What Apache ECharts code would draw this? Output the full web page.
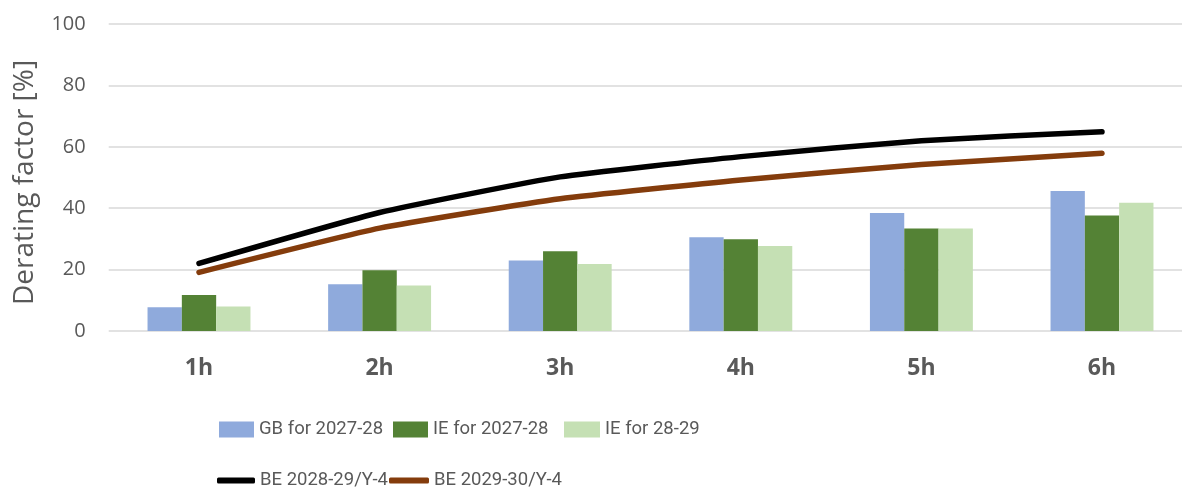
<!DOCTYPE html>
<html>
<head>
<meta charset="utf-8">
<script src="https://cdn.jsdelivr.net/npm/echarts@6/dist/echarts.min.js"></script>
<style>
  html, body { margin: 0; padding: 0; background: #fff; }
  #chart { width: 1182px; height: 493px; }
</style>
</head>
<body>
<div id="chart"></div>
<script>
// Derating factors by storage duration
const categories = ['1h', '2h', '3h', '4h', '5h', '6h'];
const yTicks = [0, 20, 40, 60, 80, 100];

const gb2027 = [7.7, 15.2, 23.0, 30.5, 38.4, 45.6];
const ie2027 = [11.7, 19.8, 26.0, 29.9, 33.4, 37.6];
const ie2829 = [8.0, 14.8, 21.8, 27.7, 33.4, 41.8];

const be2829 = [22.0, 38.6, 50.2, 56.8, 62.0, 64.9];
const be2930 = [19.1, 33.5, 43.1, 49.2, 54.2, 57.9];

const TEXT = '#595959';
const AXIS_FONT = '"Open Sans", "Noto Sans", sans-serif';
const LEGEND_FONT = 'Roboto, "Liberation Sans", sans-serif';

const chart = echarts.init(document.getElementById('chart'), null, { renderer: 'canvas' });

const barSeries = (name, data, color) => ({
  name, type: 'bar', data,
  barGap: '0%', barCategoryGap: '43%',
  itemStyle: { color },
  emphasis: { disabled: true }
});
const lineSeries = (name, data, color) => ({
  name, type: 'line', data,
  smooth: 0.15, showSymbol: false, symbol: 'none',
  lineStyle: { color, width: 5.5, cap: 'round', join: 'round' },
  itemStyle: { color },
  emphasis: { disabled: true }, z: 5
});

// one legend block per entry so each entry sits at its own spot
const legendItem = (name, left, top, w, h, icon) => ({
  data: [name], left, top, padding: 0,
  itemWidth: w, itemHeight: h, icon,
  textStyle: { color: TEXT, fontFamily: LEGEND_FONT, fontSize: 18.5 },
  selectedMode: false
});

chart.setOption({
  animation: false,
  backgroundColor: '#ffffff',
  grid: { left: 108.7, top: 24, width: 1083.6, height: 307, outerBoundsMode: 'none', containLabel: false },
  xAxis: {
    type: 'category', data: categories,
    axisLine: { show: false }, axisTick: { show: false },
    axisLabel: { color: TEXT, fontFamily: AXIS_FONT, fontSize: 23, fontWeight: 'bold', margin: 26 }
  },
  yAxis: {
    type: 'value', min: yTicks[0], max: yTicks[yTicks.length - 1], interval: 20,
    name: 'Derating factor [%]', nameLocation: 'middle', nameGap: 70,
    nameTextStyle: { color: TEXT, fontFamily: AXIS_FONT, fontSize: 28, padding: [0, 10, 0, 0] },
    axisLine: { show: false }, axisTick: { show: false },
    axisLabel: { color: TEXT, fontFamily: AXIS_FONT, fontSize: 20, margin: 23 },
    splitLine: { lineStyle: { color: '#d9d9d9', width: 1.5 } }
  },
  legend: [
    legendItem('GB for 2027-28', 219, 420, 35, 16, 'rect'),
    legendItem('IE for 2027-28', 393, 420, 35, 16, 'rect'),
    legendItem('IE for 28-29', 564, 420, 36, 16, 'rect'),
    legendItem('BE 2028-29/Y-4', 217, 471, 38, 6, 'roundRect'),
    legendItem('BE 2029-30/Y-4', 389, 471, 40, 6, 'roundRect')
  ],
  series: [
    barSeries('GB for 2027-28', gb2027, '#8faadc'),
    barSeries('IE for 2027-28', ie2027, '#548235'),
    barSeries('IE for 28-29', ie2829, '#c5e0b4'),
    lineSeries('BE 2028-29/Y-4', be2829, '#000000'),
    lineSeries('BE 2029-30/Y-4', be2930, '#843c0c')
  ]
});
</script>
</body>
</html>
